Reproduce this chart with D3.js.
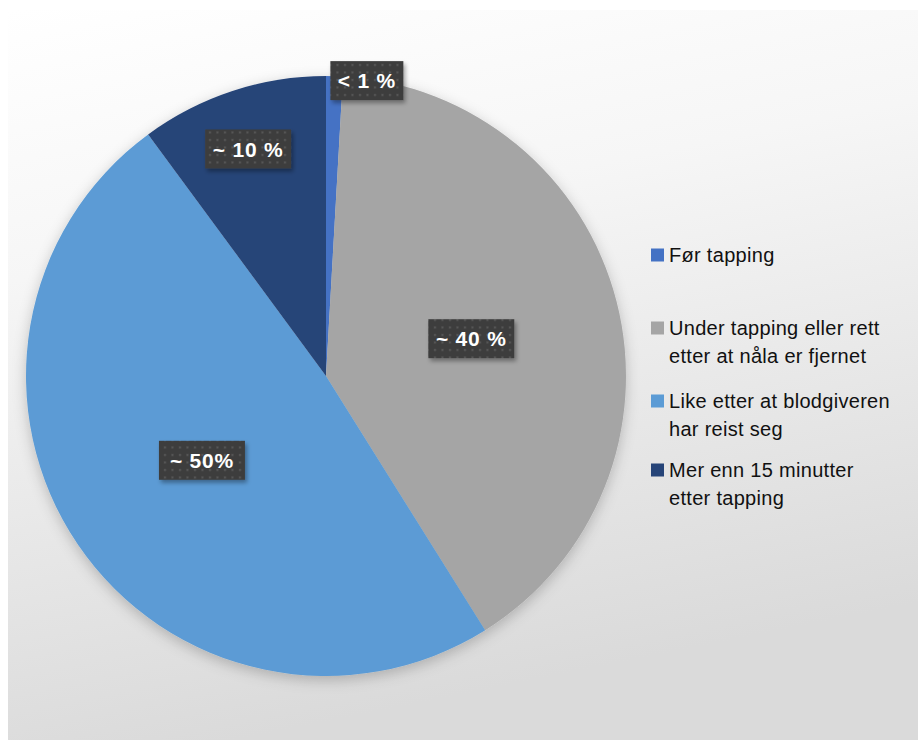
<!DOCTYPE html>
<html>
<head>
<meta charset="utf-8">
<script src="https://cdn.jsdelivr.net/npm/d3@7"></script>
<style>
  body { margin: 0; background: #fff; }
  svg { display: block; }
</style>
</head>
<body>
<div id="chart"></div>
<script>
// data
const categories = ["Før tapping", "Under tapping eller rett etter at nåla er fjernet", "Like etter at blodgiveren har reist seg", "Mer enn 15 minutter etter tapping"];
const legendLines = [["Før tapping"], ["Under tapping eller rett", "etter at nåla er fjernet"], ["Like etter at blodgiveren", "har reist seg"], ["Mer enn 15 minutter", "etter tapping"]];
const values = [0.9, 40.2, 48.8, 10.1];
const labels = ["< 1 %", "~ 40 %", "~ 50%", "~ 10 %"];
const colors = ["#4472c4", "#a5a5a5", "#5b9bd5", "#264478"];

var w = 918;
var h = 740;
var cx = 326, cy = 376, r = 300;

var svg = d3.select("#chart").append("svg")
  .attr("width", w)
  .attr("height", h);

var defs = svg.append("defs");

var grad = defs.append("linearGradient")
  .attr("id", "bg")
  .attr("x1", 0).attr("y1", 0).attr("x2", 0.25).attr("y2", 1);
grad.append("stop").attr("offset", "0%").attr("stop-color", "#ffffff");
grad.append("stop").attr("offset", "35%").attr("stop-color", "#f6f6f6");
grad.append("stop").attr("offset", "100%").attr("stop-color", "#dadada");

var shadow = defs.append("filter").attr("id", "pieShadow")
  .attr("x", "-10%").attr("y", "-10%").attr("width", "120%").attr("height", "120%");
shadow.append("feDropShadow")
  .attr("dx", 0).attr("dy", 4).attr("stdDeviation", 7)
  .attr("flood-color", "#000").attr("flood-opacity", 0.22);

var boxShadow = defs.append("filter").attr("id", "boxShadow")
  .attr("x", "-20%").attr("y", "-20%").attr("width", "150%").attr("height", "160%");
boxShadow.append("feDropShadow")
  .attr("dx", 2).attr("dy", 3).attr("stdDeviation", 2)
  .attr("flood-color", "#000").attr("flood-opacity", 0.35);

var pat = defs.append("pattern")
  .attr("id", "dots")
  .attr("patternUnits", "userSpaceOnUse")
  .attr("width", 7.5).attr("height", 7.5);
pat.append("rect").attr("width", 7.5).attr("height", 7.5).attr("fill", "#3d3d3d");
pat.append("rect").attr("x", 3).attr("y", 3).attr("width", 2).attr("height", 2).attr("fill", "#5a5a5a");

// background
svg.append("rect")
  .attr("x", 8).attr("y", 10)
  .attr("width", w - 8).attr("height", h - 10)
  .attr("fill", "url(#bg)");

///////////////////////////// Pie

var pie = d3.pie().sort(null).value(d => d);
var arcs = pie(values);

var arc = d3.arc().innerRadius(0).outerRadius(r);

var g = svg.append("g")
  .attr("transform", "translate(" + cx + "," + cy + ")");

g.append("g")
  .attr("filter", "url(#pieShadow)")
  .selectAll("path")
  .data(arcs)
  .enter().append("path")
  .attr("d", arc)
  .attr("fill", (d, i) => colors[i]);

///////////////////////////// Labels

var labelR = [0.985, 0.5, 0.5, 0.8];

labels.forEach(function (txt, i) {
  var a = arcs[i];
  var lr = d3.arc().innerRadius(r * labelR[i]).outerRadius(r * labelR[i]);
  var c = lr.centroid(a);
  var bw = i === 0 ? 73 : 86;
  var bh = 39;
  var bx = i === 0 ? c[0] - 4 : c[0] - bw / 2;
  var by = c[1] - bh / 2;
  if (i === 3) { bx -= 3; by += 1; }

  var lg = g.append("g");
  lg.append("rect")
    .attr("x", bx).attr("y", by)
    .attr("width", bw).attr("height", bh)
    .attr("fill", "url(#dots)")
    .attr("filter", "url(#boxShadow)");
  lg.append("text")
    .attr("x", bx + bw / 2)
    .attr("y", by + bh / 2)
    .attr("dy", "0.36em")
    .attr("text-anchor", "middle")
    .attr("fill", "#fff")
    .attr("font-family", "'Liberation Sans', Arial, sans-serif")
    .attr("font-weight", "bold")
    .attr("font-size", 21)
    .attr("letter-spacing", 0.8)
    .text(txt);
});

///////////////////////////// Legend

var legendY = [255, 328, 401, 470];

var legend = svg.append("g");

categories.forEach(function (cat, i) {
  var item = legend.append("g")
    .attr("transform", "translate(651," + legendY[i] + ")");
  item.append("rect")
    .attr("x", 0).attr("y", -6.5)
    .attr("width", 13).attr("height", 13)
    .attr("fill", colors[i]);
  var t = item.append("text")
    .attr("x", 18)
    .attr("y", 0)
    .attr("fill", "#111")
    .attr("font-family", "'Liberation Sans', Arial, sans-serif")
    .attr("font-size", 20)
    .attr("letter-spacing", 0.3);
  legendLines[i].forEach(function (line, j) {
    t.append("tspan")
      .attr("x", 18)
      .attr("y", j * 28)
      .attr("dy", "0.36em")
      .text(line);
  });
});
</script>
</body>
</html>
